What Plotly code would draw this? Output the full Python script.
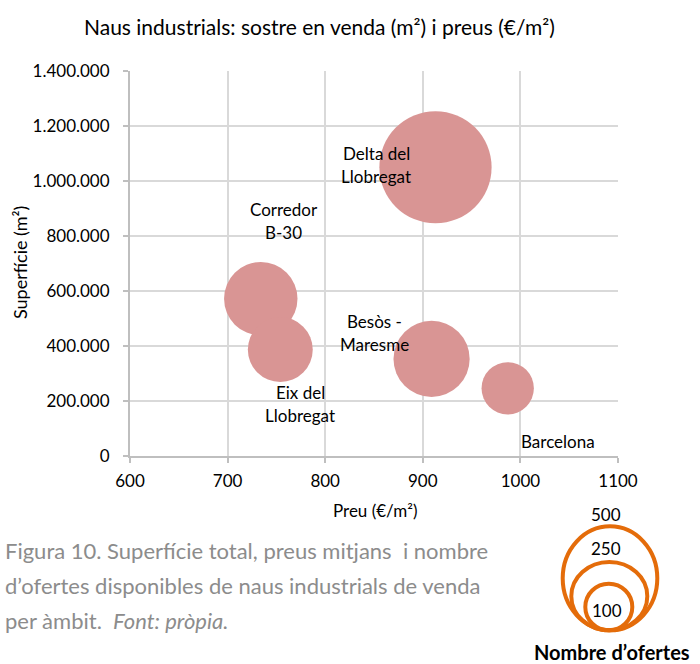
import plotly.graph_objects as go

# ---- data ----
areas = ["Delta del Llobregat", "Corredor B-30", "Eix del Llobregat", "Besòs - Maresme", "Barcelona"]
label_lines = [["Delta del", "Llobregat"], ["Corredor", "B-30"], ["Eix del", "Llobregat"],
               ["Besòs -", "Maresme"], ["Barcelona"]]
price = [913, 734, 754, 909, 987]                       # €/m²
surface = [1050000, 572000, 387000, 353000, 246000]     # m²
offers = [460, 197, 154, 212, 100]                      # nombre d'ofertes
legend_sizes = [500, 250, 100]
x_ticks = [600, 700, 800, 900, 1000, 1100]
y_ticks = [0, 200000, 400000, 600000, 800000, 1000000, 1200000, 1400000]

title_text = "Naus industrials: sostre en venda (m²) i preus (€/m²)"
x_title = "Preu (€/m²)"
y_title = "Superfície (m²)"
caption_lines = ["Figura 10. Superfície total, preus mitjans  i nombre",
                 "d’ofertes disponibles de naus industrials de venda",
                 "per àmbit.  <i>Font: pròpia.</i>"]
legend_title = "Nombre d’ofertes"

# ---- layout geometry (pixels) ----
W, H = 700, 664
L, R, T, B = 130, 82, 71, 208
PW, PH = W - L - R, H - T - B
FONT = "Lato"
BUBBLE = "#D99594"
ORANGE = "#E46C0A"


def px(xp):
    return (xp - L) / PW


def py(yp):
    return (H - B - yp) / PH


fig = go.Figure()
max_diam = 112.2
fig.add_trace(go.Scatter(
    x=price, y=surface, mode="markers",
    marker=dict(size=offers, sizemode="area", sizeref=2 * max(offers) / max_diam ** 2,
                color=BUBBLE, opacity=1, line=dict(width=0)),
    text=areas, hoverinfo="text", showlegend=False,
))

annotations = []
# data labels: offsets (dx, dy) of label-block centre from bubble centre, in px
label_offsets = [(-59, 2), (23, 78), (20, -54), (-57, 26), (50, -53)]
line_gap = 23
for i, lines in enumerate(label_lines):
    dx, dy = label_offsets[i]
    n = len(lines)
    for j, ln in enumerate(lines):
        off = (n - 1) / 2 * line_gap - j * line_gap
        annotations.append(dict(
            x=price[i], y=surface[i], xref="x", yref="y", text=ln, showarrow=False,
            xshift=dx, yshift=dy + off, xanchor="center", yanchor="middle",
            font=dict(family=FONT, size=17, color="#000000")))

# title
annotations.append(dict(x=px(319), y=py(27), xref="paper", yref="paper", text=title_text,
                        showarrow=False, xanchor="center", yanchor="middle",
                        font=dict(family=FONT, size=21, color="#000000")))
# axis titles
annotations.append(dict(x=px(375), y=py(510), xref="paper", yref="paper", text=x_title,
                        showarrow=False, xanchor="center", yanchor="middle",
                        font=dict(family=FONT, size=17, color="#000000")))
annotations.append(dict(x=px(20), y=py(263), xref="paper", yref="paper", text=y_title,
                        showarrow=False, xanchor="center", yanchor="middle", textangle=-90,
                        font=dict(family=FONT, size=18, color="#000000")))
# caption
for k, (ln, yc) in enumerate(zip(caption_lines, [550, 585, 620])):
    annotations.append(dict(x=px(3), y=py(yc), xref="paper", yref="paper", text=ln,
                            showarrow=False, xanchor="left", yanchor="middle",
                            font=dict(family=FONT, size=22, color="#8C8C8C")))

# size legend (illustrative nested circles)
circle_boxes = [(562.7, 657.3, 526.3, 630.3), (571.3, 647.3, 562.0, 630.3), (585.3, 632.3, 583.7, 630.3)]
shapes = []
for (x0, x1, y0, y1) in circle_boxes:
    shapes.append(dict(type="circle", xref="paper", yref="paper",
                       x0=px(x0), x1=px(x1), y0=py(y1), y1=py(y0),
                       line=dict(color=ORANGE, width=4), fillcolor="rgba(0,0,0,0)", layer="above"))
legend_label_pos = [(606, 514), (606, 548), (607, 610)]
for s, (lx, ly) in zip(legend_sizes, legend_label_pos):
    annotations.append(dict(x=px(lx), y=py(ly), xref="paper", yref="paper", text=str(s),
                            showarrow=False, xanchor="center", yanchor="middle",
                            font=dict(family=FONT, size=17, color="#000000")))
annotations.append(dict(x=px(612), y=py(652), xref="paper", yref="paper", text="<b>" + legend_title + "</b>",
                        showarrow=False, xanchor="center", yanchor="middle", borderpad=0,
                        font=dict(family=FONT, size=20, color="#000000")))

axis_common = dict(showgrid=True, gridcolor="#D9D9D9", gridwidth=1.5, zeroline=False,
                   showline=True, linecolor="#BFBFBF", linewidth=2,
                   ticks="outside", ticklen=5, tickcolor="#BFBFBF", tickwidth=2,
                   tickfont=dict(family=FONT, size=17, color="#000000"))

fig.update_layout(
    width=W, height=H, margin=dict(l=L, r=R, t=T, b=B, autoexpand=False),
    paper_bgcolor="white", plot_bgcolor="white",
    separators=",.",
    xaxis=dict(range=[x_ticks[0], x_ticks[-1]], tickvals=x_ticks, tickformat="d",
               ticklabelstandoff=4, **axis_common),
    yaxis=dict(range=[y_ticks[0], y_ticks[-1]], tickvals=y_ticks, tickformat=",d",
               ticklabelstandoff=10, **axis_common),
    annotations=annotations, shapes=shapes, showlegend=False,
)

fig.write_html("out.html", config={"displayModeBar": False},
               post_script="document.body.style.margin='0';document.body.style.overflow='hidden';")
